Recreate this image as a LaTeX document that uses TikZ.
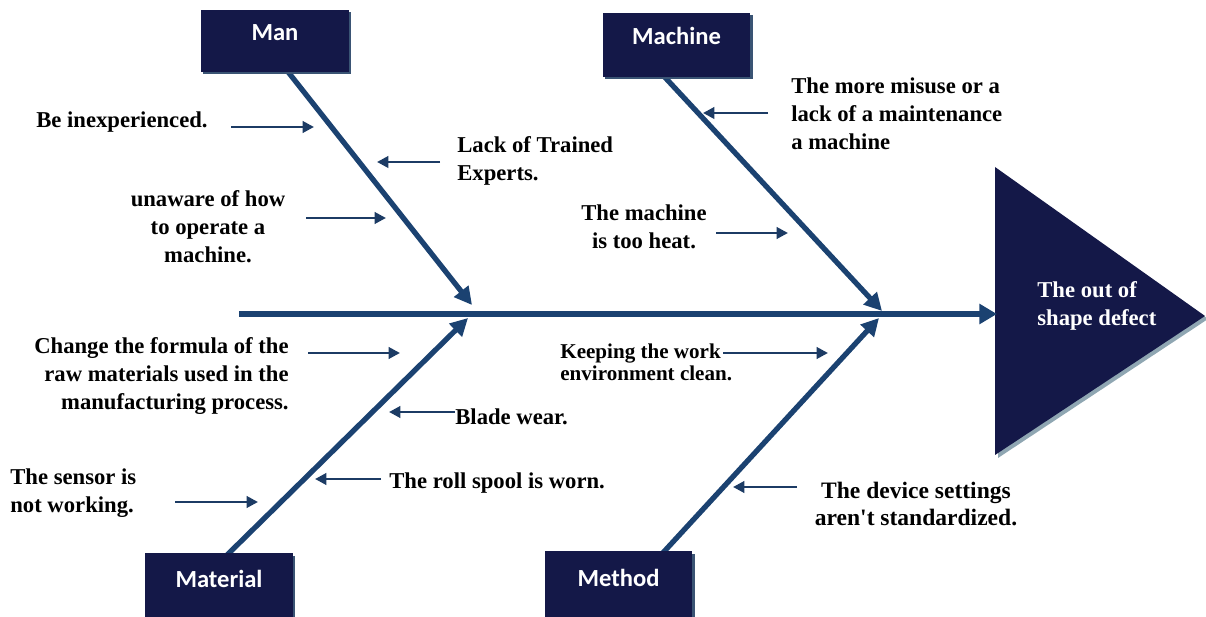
\documentclass[tikz,border=0pt]{standalone}
\usepackage{fontspec}
\setmainfont{Liberation Serif}
\newfontfamily\labelfont{Carlito}
\usetikzlibrary{arrows.meta,shadows}
\definecolor{boxnavy}{HTML}{141848}
\definecolor{bonecol}{HTML}{1B4271}
\definecolor{twigcol}{HTML}{1C3B64}
\definecolor{boxshade}{HTML}{3A5474}
\definecolor{trishade}{HTML}{8FA6B2}

\begin{document}
\begin{tikzpicture}[x=0.02cm,y=-0.02cm,
  catbox/.style={fill=boxnavy, minimum width=2.96cm, inner sep=0pt,
    text=white, font=\labelfont\bfseries\fontsize{14}{16}\selectfont,
    text height=9pt, text depth=10pt,
    drop shadow={shadow xshift=0.045cm, shadow yshift=-0.05cm, fill=boxshade, opacity=1}},
  cause/.style={font=\bfseries\fontsize{12.9}{16}\selectfont, inner sep=0pt},
  spine/.style={draw=bonecol, line width=3.2pt, -{Triangle[length=10pt,width=11pt]}},
  bonearrow/.style={draw=bonecol, line width=3pt, -{Triangle[length=10pt,width=10pt]}},
  twig/.style={draw=twigcol, line width=1.6pt, -{Triangle[length=6.5pt,width=6.5pt]}},
]
\useasboundingbox (0,0) rectangle (1206,617);

% effect head
\fill[trishade] (998,170) -- (1208,319) -- (998,458) -- cycle;
\fill[boxnavy] (995,167) -- (1205,316) -- (995,455) -- cycle;
\node[cause, text=white, align=left, anchor=west] (effect) at (1037,306) {The out of\\shape defect};

% main spine
\coordinate (tail) at (239,314);
\coordinate (head) at (997,314);
\draw[spine] (tail) -- (head);

% junctions on the spine
\coordinate (j1) at (472,305);
\coordinate (j2) at (468,318);
\coordinate (j3) at (882,311);
\coordinate (j4) at (879,318);

% feet of the bones at the category boxes
\coordinate (manfoot) at (285,68);
\coordinate (machfoot) at (660,72);
\coordinate (matfoot) at (224,558);
\coordinate (methfoot) at (660,556);

\draw[bonearrow] (manfoot) -- (j1);
\draw[bonearrow] (machfoot) -- (j3);
\draw[bonearrow] (matfoot) -- (j2);
\draw[bonearrow] (methfoot) -- (j4);

% category boxes
\node[catbox, minimum height=1.24cm] (man) at (275,41) {Man};
\node[catbox, minimum height=1.28cm] (machine) at (676.5,45) {Machine};
\node[catbox, minimum height=1.40cm] (material) at (219,588) {Material};
\node[catbox, minimum height=1.44cm] (method) at (618.5,587) {Method};

% causes: Man
\node[cause, anchor=west] (inexp) at (36,122) {Be inexperienced.};
\node[cause, anchor=west, align=left] (lack) at (457,161) {Lack of Trained\\Experts.};
\node[cause, align=center] (unaware) at (208,227) {unaware of how\\to operate a\\machine.};
\coordinate (a1s) at (231,127); \coordinate (a1e) at (314,127);
\coordinate (a2s) at (440,162); \coordinate (a2e) at (377,162);
\coordinate (a3s) at (306,218); \coordinate (a3e) at (386,218);
\draw[twig] (a1s) -- (a1e);
\draw[twig] (a2s) -- (a2e);
\draw[twig] (a3s) -- (a3e);

% causes: Machine
\node[cause, anchor=west, align=left] (misuse) at (791,114) {The more misuse or a\\lack of a maintenance\\a machine};
\node[cause, align=center] (heat) at (644,227) {The machine\\is too heat.};
\coordinate (a4s) at (768,113); \coordinate (a4e) at (703,113);
\coordinate (a5s) at (716,233); \coordinate (a5e) at (788,233);
\draw[twig] (a4s) -- (a4e);
\draw[twig] (a5s) -- (a5e);

% causes: Material
\node[cause, anchor=east, align=right] (formula) at (289,376) {Change the formula of the\\raw materials used in the\\manufacturing process.};
\node[cause, anchor=west] (blade) at (455,417) {Blade wear.};
\node[cause, anchor=west, align=left] (sensor) at (10,493) {The sensor is\\not working.};
\node[cause, anchor=west] (roll) at (389,483) {The roll spool is worn.};
\coordinate (a6s) at (308,353); \coordinate (a6e) at (400,353);
\coordinate (a7s) at (455,412); \coordinate (a7e) at (389,412);
\coordinate (a9s) at (175,502); \coordinate (a9e) at (258,502);
\coordinate (a10s) at (381,479); \coordinate (a10e) at (315,479);
\draw[twig] (a6s) -- (a6e);
\draw[twig] (a7s) -- (a7e);
\draw[twig] (a9s) -- (a9e);
\draw[twig] (a10s) -- (a10e);

% causes: Method
\node[cause, anchor=west, align=left, font=\bfseries\fontsize{12}{12.6}\selectfont] (clean) at (560,362) {Keeping the work\\environment clean.};
\node[cause, align=center, font=\bfseries\fontsize{13.4}{15.5}\selectfont] (device) at (916,504) {The device settings\\aren\textquotesingle t standardized.};
\coordinate (a8s) at (723,353); \coordinate (a8e) at (828,353);
\coordinate (a11s) at (797,487); \coordinate (a11e) at (733,487);
\draw[twig] (a8s) -- (a8e);
\draw[twig] (a11s) -- (a11e);
\end{tikzpicture}
\end{document}
